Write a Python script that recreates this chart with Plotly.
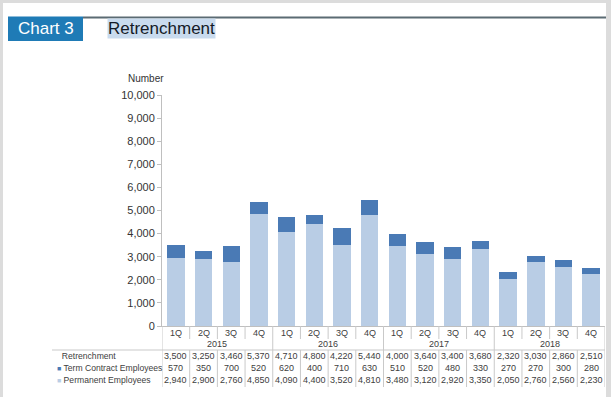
import plotly.graph_objects as go

# ---------------- data ----------------
years = ["2015", "2016", "2017", "2018"]
quarters = ["1Q", "2Q", "3Q", "4Q"]
categories = [f"{y} {q}" for y in years for q in quarters]
quarter_labels = [q for y in years for q in quarters]
retrenchment = [3500, 3250, 3460, 5370, 4710, 4800, 4220, 5440,
                4000, 3640, 3400, 3680, 2320, 3030, 2860, 2510]
term_contract = [570, 350, 700, 520, 620, 400, 710, 630,
                 510, 520, 480, 330, 270, 270, 300, 280]
permanent = [2940, 2900, 2760, 4850, 4090, 4400, 3520, 4810,
             3480, 3120, 2920, 3350, 2050, 2760, 2560, 2230]
y_ticks = list(range(0, 10001, 1000))

# ---------------- layout geometry (pixels) ----------------
W, H = 611, 397
L, R, T, B = 162, 605, 95, 326  # plot area


def px(x):
    return (x - L) / (R - L)


def py(y):
    return (B - y) / (B - T)


C_PERM = "#b9cde5"
C_TERM = "#4a7ab5"
FONT = "Arial, Liberation Sans, sans-serif"
GRID = "#c9c9c9"
TXT = "#404040"

fig = go.Figure()
fig.add_bar(x=categories, y=permanent, name="Permanent Employees",
            marker=dict(color=C_PERM, line=dict(width=0)))
fig.add_bar(x=categories, y=term_contract, name="Term Contract Employees",
            marker=dict(color=C_TERM, line=dict(width=0)))

shapes = []
annotations = []
n = len(categories)

# background frame
shapes.append(dict(type="rect", xref="paper", yref="paper", layer="below",
                   x0=px(3), x1=px(606), y0=py(398), y1=py(3),
                   fillcolor="white", line=dict(width=0)))

# title bar
shapes.append(dict(type="line", xref="paper", yref="paper",
                   x0=px(83), x1=px(606), y0=py(17.5), y1=py(17.5),
                   line=dict(color="#5b6b73", width=2)))
shapes.append(dict(type="rect", xref="paper", yref="paper",
                   x0=px(8), x1=px(83), y0=py(41), y1=py(16.5),
                   fillcolor="#1f7bb6", line=dict(width=0)))
annotations.append(dict(xref="paper", yref="paper", x=px(45.5), y=py(29),
                        text="Chart 3", showarrow=False,
                        font=dict(family=FONT, size=17, color="white"),
                        xanchor="center", yanchor="middle"))
annotations.append(dict(xref="paper", yref="paper", x=px(107), y=py(29),
                        text="Retrenchment", showarrow=False,
                        bgcolor="#c9dbee", borderpad=0,
                        font=dict(family=FONT, size=17, color="#141a26"),
                        xanchor="left", yanchor="middle"))

# y-axis title
annotations.append(dict(xref="paper", yref="paper", x=px(146), y=py(79),
                        text="Number", showarrow=False,
                        font=dict(family=FONT, size=10, color="#333333"),
                        xanchor="center", yanchor="middle"))

# category separators
for i in range(n + 1):
    xb = i - 0.5
    if i % 4 == 0:
        shapes.append(dict(type="line", xref="x", yref="paper", x0=xb, x1=xb,
                           y0=py(326), y1=py(387), line=dict(color=GRID, width=1)))
    else:
        shapes.append(dict(type="line", xref="x", yref="paper", x0=xb, x1=xb,
                           y0=py(326), y1=py(339), line=dict(color=GRID, width=1)))
        shapes.append(dict(type="line", xref="x", yref="paper", x0=xb, x1=xb,
                           y0=py(350), y1=py(387), line=dict(color=GRID, width=1)))

# table top line
shapes.append(dict(type="line", xref="paper", yref="paper",
                   x0=px(52), x1=px(605), y0=py(350), y1=py(350),
                   line=dict(color=GRID, width=1)))

# quarter labels
for cat, q in zip(categories, quarter_labels):
    annotations.append(dict(xref="x", yref="paper", x=cat, y=py(333),
                            text=q, showarrow=False,
                            font=dict(family=FONT, size=9, color=TXT),
                            xanchor="center", yanchor="middle"))
# year labels
for k, yr in enumerate(years):
    annotations.append(dict(xref="x", yref="paper", x=4 * k + 1.5, y=py(344),
                            text=yr, showarrow=False,
                            font=dict(family=FONT, size=9, color=TXT),
                            xanchor="center", yanchor="middle"))

# table rows
rows = [
    ("Retrenchment", retrenchment, None, 356),
    ("Term Contract Employees", term_contract, C_TERM, 368),
    ("Permanent Employees", permanent, C_PERM, 380),
]
for label, vals, col, yy in rows:
    if col is None:
        lab = "&nbsp;&nbsp;" + label
    else:
        lab = f"<span style='color:{col};font-size:7px'>■</span> {label}"
    annotations.append(dict(xref="paper", yref="paper", x=px(55), y=py(yy),
                            text=lab, showarrow=False,
                            font=dict(family=FONT, size=8.6, color=TXT),
                            xanchor="left", yanchor="middle"))
    for cat, v in zip(categories, vals):
        annotations.append(dict(xref="x", yref="paper", x=cat, y=py(yy),
                                text=f"{v:,}", showarrow=False,
                                font=dict(family=FONT, size=9, color=TXT),
                                xanchor="center", yanchor="middle"))

fig.update_layout(
    width=W, height=H,
    margin=dict(l=L, r=W - R, t=T, b=H - B, pad=0),
    paper_bgcolor="#dcdcdc", plot_bgcolor="rgba(0,0,0,0)",
    barmode="stack", bargap=0.37,
    showlegend=False,
    font=dict(family=FONT, color="#333333"),
    shapes=shapes, annotations=annotations,
    xaxis=dict(showticklabels=False, ticks="", showgrid=False,
               showline=True, linecolor="#bfbfbf", linewidth=1,
               range=[-0.5, n - 0.5], fixedrange=True),
    yaxis=dict(range=[0, 10000], tickvals=y_ticks, tickformat=",",
               showgrid=False, zeroline=False, showline=True,
               linecolor="#bfbfbf", linewidth=1, ticks="outside",
               ticklen=4, tickcolor="#bfbfbf",
               tickfont=dict(family=FONT, size=11, color="#333333")),
)

fig.write_html("out.html",
               config={"displayModeBar": False},
               post_script="document.body.style.margin='0';"
                           "document.body.style.overflow='hidden';")
